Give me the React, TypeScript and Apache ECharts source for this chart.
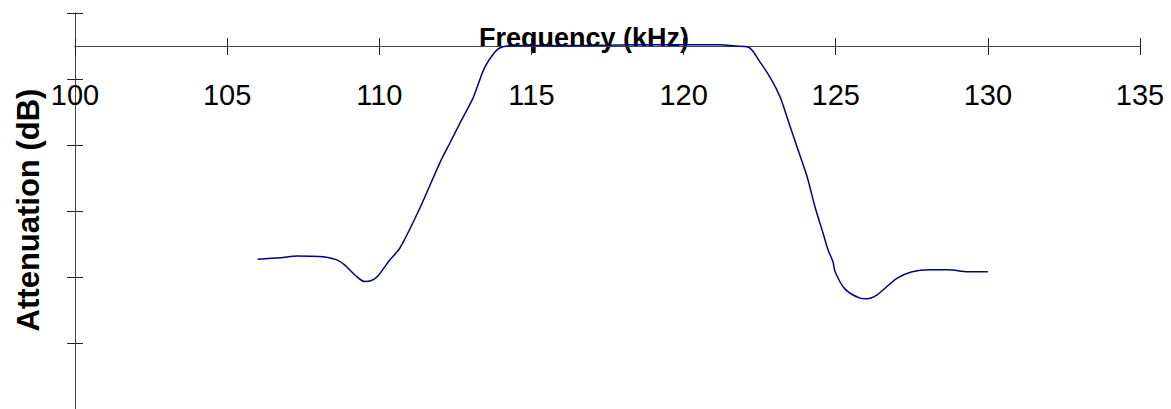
import React, { useEffect, useRef } from "react";
import * as echarts from "echarts";

// Frequency (kHz) and attenuation (dB)
const frequency = [
  106.0, 106.75, 107.3, 108.05, 108.6, 108.87, 109.2, 109.53, 109.76, 109.96,
  110.35, 110.68, 111.34, 111.99, 112.32, 112.65, 113.08, 113.24, 113.47, 113.8,
  114.03, 114.53, 115.94, 117.91, 119.88, 121.2, 121.69, 122.12, 122.51, 122.9,
  123.17, 123.43, 123.73, 124.06, 124.32, 124.58, 124.75, 124.91, 124.98, 125.3,
  125.8, 126.03, 126.36, 127.01, 127.51, 128.1, 128.69, 129.35, 130.0,
];
const attenuation = [
  -32.3, -32.1, -31.8, -31.9, -32.4, -33.2, -34.7, -35.7, -35.5, -34.8,
  -32.4, -30.6, -24.5, -17.7, -14.7, -11.7, -7.9, -5.9, -3.2, -0.9,
  -0.15, 0.08, 0.05, 0.15, 0.2, 0.2, 0.0, -0.15, -2.4, -5.2,
  -7.7, -11.2, -15.3, -19.8, -24.4, -28.3, -30.9, -32.7, -34.2, -36.8,
  -38.2, -38.3, -37.7, -35.2, -34.2, -33.9, -33.9, -34.2, -34.2,
];
const xTicks = { min: 100, max: 135, interval: 5 };
const yTicks = { min: -55, max: 5, interval: 10 };
const xTitle = "Frequency (kHz)";
const yTitle = "Attenuation (dB)";

export default function App() {
  const ref = useRef<HTMLDivElement>(null);
  useEffect(() => {
    if (!ref.current) return;
    const chart = echarts.init(ref.current, undefined, { renderer: "svg" });
    const axisLine = { lineStyle: { color: "#444", width: 1 } };
    const tickStyle = { lineStyle: { color: "#222", width: 1 } };
    // grid is 396px tall for 60 dB; the 0 dB line sits 5 dB below the top
    const zeroOffset = -33;
    const baseX = {
      type: "value" as const,
      min: xTicks.min,
      max: xTicks.max,
      interval: xTicks.interval,
      splitLine: { show: false },
      position: "top" as const,
      offset: zeroOffset,
    };
    const baseY = {
      type: "value" as const,
      min: yTicks.min,
      max: yTicks.max,
      interval: yTicks.interval,
      splitLine: { show: false },
      axisLabel: { show: false },
      position: "left" as const,
    };
    chart.setOption({
      animation: false,
      grid: {
        left: 75,
        right: 31,
        top: 13,
        bottom: 0,
        containLabel: false,
        outerBoundsMode: "none",
      },
      xAxis: [
        {
          ...baseX,
          axisLine: { ...axisLine, onZero: false },
          axisTick: { inside: true, length: 9, ...tickStyle },
          axisLabel: {
            show: true,
            inside: true,
            margin: 34,
            fontSize: 29,
            fontFamily: "'Liberation Sans Narrow', 'Arial Narrow', 'Liberation Sans', Arial, sans-serif",
            color: "#000",
            showMinLabel: true,
            showMaxLabel: true,
          },
        },
        {
          ...baseX,
          axisLine: { ...axisLine, onZero: false },
          axisTick: { inside: false, length: 8, ...tickStyle },
          axisLabel: { show: false },
        },
      ],
      yAxis: [
        {
          ...baseY,
          axisLine: { ...axisLine, onZero: false },
          axisTick: { inside: false, length: 8, ...tickStyle },
        },
        {
          ...baseY,
          axisLine: { ...axisLine, onZero: false },
          axisTick: { inside: true, length: 8, ...tickStyle },
        },
      ],
      graphic: [
        {
          type: "text",
          x: 584,
          y: 38,
          z: -1,
          style: {
            text: xTitle,
            font: "bold 27px 'Liberation Sans', Arial, sans-serif",
            fill: "#000",
            align: "center",
            verticalAlign: "middle",
            textAlign: "center",
            textVerticalAlign: "middle",
          },
        },
        {
          type: "text",
          x: 28,
          y: 210,
          rotation: Math.PI / 2,
          style: {
            text: yTitle,
            font: "bold 31px 'Liberation Sans', Arial, sans-serif",
            fill: "#000",
            align: "center",
            verticalAlign: "middle",
            textAlign: "center",
            textVerticalAlign: "middle",
          },
        },
      ],
      series: [
        {
          type: "line",
          xAxisIndex: 0,
          yAxisIndex: 0,
          data: frequency.map((f, i) => [f, attenuation[i]]),
          showSymbol: false,
          symbol: "none",
          smooth: 0.3,
          z: 5,
          lineStyle: { color: "#000080", width: 1.5 },
        },
      ],
    });
    return () => chart.dispose();
  }, []);
  return (
    <div
      ref={ref}
      style={{ position: "fixed", left: 0, top: 0, width: 1171, height: 409, background: "#fff" }}
    />
  );
}
